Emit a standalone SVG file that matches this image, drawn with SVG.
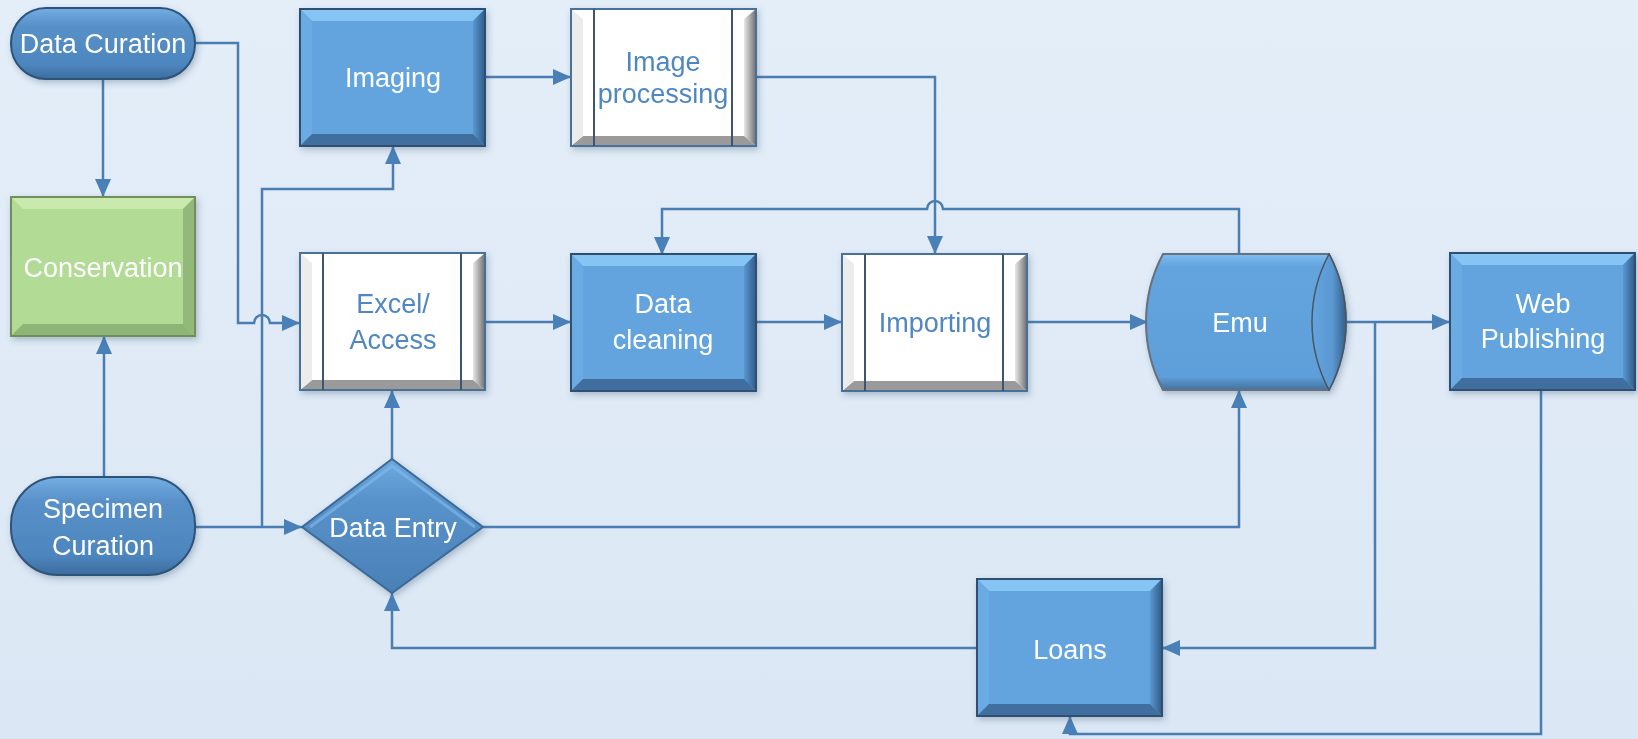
<svg xmlns="http://www.w3.org/2000/svg" xmlns:xlink="http://www.w3.org/1999/xlink" width="1638" height="739" viewBox="0 0 1638 739">
<style>
.t{font-family:"Liberation Sans",Arial,sans-serif;font-size:27px;text-anchor:middle}
.tw{fill:#ffffff}
.tb{fill:#4f87c2}
.c{fill:none;stroke:#4a7eb3;stroke-width:2.5;stroke-linejoin:miter}
</style>
<defs>
<linearGradient id="bg" x1="0" y1="0" x2="0" y2="1"><stop offset="0" stop-color="#e4eef9"/><stop offset="1" stop-color="#dbe7f4"/></linearGradient>
<linearGradient id="pill" x1="0" y1="0" x2="0" y2="1"><stop offset="0" stop-color="#74aee2"/><stop offset="0.25" stop-color="#5890c8"/><stop offset="0.8" stop-color="#4d86be"/><stop offset="1" stop-color="#3c6c9e"/></linearGradient>
<linearGradient id="dia" x1="0" y1="0" x2="0" y2="1"><stop offset="0" stop-color="#6ea9de"/><stop offset="0.3" stop-color="#5893cb"/><stop offset="1" stop-color="#4a80b6"/></linearGradient>
<linearGradient id="rgtB" x1="0" y1="0" x2="1" y2="0"><stop offset="0" stop-color="#5a98d2"/><stop offset="1" stop-color="#2f5a86"/></linearGradient>
<linearGradient id="rgtW" x1="0" y1="0" x2="1" y2="0"><stop offset="0" stop-color="#e8e8e8"/><stop offset="1" stop-color="#6e6e6e"/></linearGradient>
<linearGradient id="emuG" x1="0" y1="0" x2="0" y2="1"><stop offset="0" stop-color="#80bdf0"/><stop offset="0.09" stop-color="#63a4df"/><stop offset="0.9" stop-color="#5f9fd9"/><stop offset="1" stop-color="#41729f"/></linearGradient>
<linearGradient id="emuR" x1="0" y1="0" x2="1" y2="0"><stop offset="0" stop-color="#63a4df"/><stop offset="0.6" stop-color="#5a98d2"/><stop offset="1" stop-color="#33608c"/></linearGradient>
<filter id="sh" x="-10%" y="-10%" width="125%" height="130%"><feDropShadow dx="2" dy="3" stdDeviation="3" flood-color="#2b4563" flood-opacity="0.3"/></filter>
<marker id="ar" markerUnits="userSpaceOnUse" markerWidth="20" markerHeight="18" refX="18" refY="8" orient="auto"><path d="M0,0 L18,8 L0,16 Z" fill="#4a80b8"/></marker>
<g id="boxBlue">
<rect x="0" y="0" width="185" height="137" fill="#63a4df"/>
<polygon points="0,0 185,0 173,12 12,12" fill="#86c4f3"/>
<polygon points="0,0 12,12 12,125 0,137" fill="#6aabe4"/>
<polygon points="185,0 185,137 173,125 173,12" fill="url(#rgtB)"/>
<polygon points="0,137 12,125 173,125 185,137" fill="#3f6e9e"/>
<rect x="0" y="0" width="185" height="137" fill="none" stroke="#2e4f72" stroke-width="2"/>
</g>
<g id="boxWhite">
<rect x="0" y="0" width="185" height="137" fill="#ffffff"/>
<polygon points="185,0 185,137 173,127 173,10" fill="url(#rgtW)"/>
<polygon points="0,137 12,127 173,127 185,137" fill="#9a9a9a"/>
<polygon points="0,0 12,10 12,127 0,137" fill="#ececec"/>
<rect x="12" y="8" width="161" height="119" fill="#ffffff"/>
<rect x="0" y="0" width="185" height="137" fill="none" stroke="#4a6f96" stroke-width="2"/>
<line x1="23" y1="0" x2="23" y2="137" stroke="#3d5570" stroke-width="2"/>
<line x1="161" y1="0" x2="161" y2="137" stroke="#3d5570" stroke-width="2"/>
</g>
</defs>
<rect width="1638" height="739" fill="url(#bg)"/>
<g id="connectors">
<path class="c" d="M103,79 V197" marker-end="url(#ar)"/>
<path class="c" d="M104,477 V336" marker-end="url(#ar)"/>
<path class="c" d="M195,43 H238 V323 H254 A8,8 0 0 1 270,323 H300" marker-end="url(#ar)"/>
<path class="c" d="M195,527 H302" marker-end="url(#ar)"/>
<path class="c" d="M262,527 V189 H393 V146" marker-end="url(#ar)"/>
<path class="c" d="M392,459 V390" marker-end="url(#ar)"/>
<path class="c" d="M486,77 H571" marker-end="url(#ar)"/>
<path class="c" d="M756,77 H935 V254" marker-end="url(#ar)"/>
<path class="c" d="M484,322 H571" marker-end="url(#ar)"/>
<path class="c" d="M755,322 H842" marker-end="url(#ar)"/>
<path class="c" d="M1027,322 H1148" marker-end="url(#ar)"/>
<path class="c" d="M1239,254 V209 H943 A8,8 0 0 0 927,209 H662 V255" marker-end="url(#ar)"/>
<path class="c" d="M1326,322 H1450" marker-end="url(#ar)"/>
<path class="c" d="M1375,322 V648 H1162" marker-end="url(#ar)"/>
<path class="c" d="M977,648 H392 V593" marker-end="url(#ar)"/>
<path class="c" d="M483,527 H1239 V390" marker-end="url(#ar)"/>
<path class="c" d="M1541,390 V734 H1070 V716" marker-end="url(#ar)"/>
</g>
<g id="data-curation" filter="url(#sh)">
<rect x="11" y="8" width="184" height="71" rx="35" ry="35" fill="url(#pill)" stroke="#2d5278" stroke-width="2"/>
<text class="t tw" x="103" y="53">Data Curation</text>
</g>
<g id="conservation" filter="url(#sh)">
<rect x="11" y="197" width="184" height="139" fill="#b2db95"/>
<polygon points="11,197 195,197 183,209 23,209" fill="#c9e9ae"/>
<polygon points="195,197 195,336 183,324 183,209" fill="#92b979"/>
<polygon points="11,336 23,324 183,324 195,336" fill="#8fb477"/>
<rect x="11" y="197" width="184" height="139" fill="none" stroke="#6f8f5c" stroke-width="2"/>
<text class="t tw" x="103" y="277">Conservation</text>
</g>
<g id="specimen-curation" filter="url(#sh)">
<rect x="11" y="477" width="184" height="98" rx="47" ry="47" fill="url(#pill)" stroke="#2d5278" stroke-width="2"/>
<text class="t tw" x="103" y="518">Specimen</text>
<text class="t tw" x="103" y="555">Curation</text>
</g>
<g id="imaging" filter="url(#sh)">
<use xlink:href="#boxBlue" x="300" y="9"/>
<text class="t tw" x="393" y="87">Imaging</text>
</g>
<g id="image-processing" filter="url(#sh)">
<use xlink:href="#boxWhite" x="571" y="9"/>
<text class="t tb" x="663" y="71">Image</text>
<text class="t tb" x="663" y="103">processing</text>
</g>
<g id="excel-access" filter="url(#sh)">
<use xlink:href="#boxWhite" x="300" y="253"/>
<text class="t tb" x="393" y="313">Excel/</text>
<text class="t tb" x="393" y="349">Access</text>
</g>
<g id="data-cleaning" filter="url(#sh)">
<use xlink:href="#boxBlue" x="571" y="254"/>
<text class="t tw" x="663" y="313">Data</text>
<text class="t tw" x="663" y="349">cleaning</text>
</g>
<g id="importing" filter="url(#sh)">
<use xlink:href="#boxWhite" x="842" y="254"/>
<text class="t tb" x="935" y="332">Importing</text>
</g>
<g id="emu" filter="url(#sh)">
<path d="M1163,254 H1329 A144.5,144.5 0 0 1 1329,390 H1163 A144.5,144.5 0 0 1 1163,254 Z" fill="url(#emuG)" stroke="#66717d" stroke-width="2"/>
<path d="M1329,254 A144.5,144.5 0 0 1 1329,390 A144.5,144.5 0 0 1 1329,254 Z" fill="url(#emuR)" stroke="#4a5560" stroke-width="1.5"/>
<text class="t tw" x="1240" y="332">Emu</text>
</g>
<g id="web-publishing" filter="url(#sh)">
<use xlink:href="#boxBlue" x="1450" y="253"/>
<text class="t tw" x="1543" y="313">Web</text>
<text class="t tw" x="1543" y="348">Publishing</text>
</g>
<g id="loans" filter="url(#sh)">
<use xlink:href="#boxBlue" x="977" y="579"/>
<text class="t tw" x="1070" y="659">Loans</text>
</g>
<g id="data-entry" filter="url(#sh)">
<polygon points="302,527 392,459 483,527 392,593" fill="url(#dia)" stroke="#3a6a99" stroke-width="2"/>
<polyline points="310,527 392,466 475,527" fill="none" stroke="#86bdec" stroke-width="3" opacity="0.6"/>
<text class="t tw" x="393" y="537">Data Entry</text>
</g>
</svg>
